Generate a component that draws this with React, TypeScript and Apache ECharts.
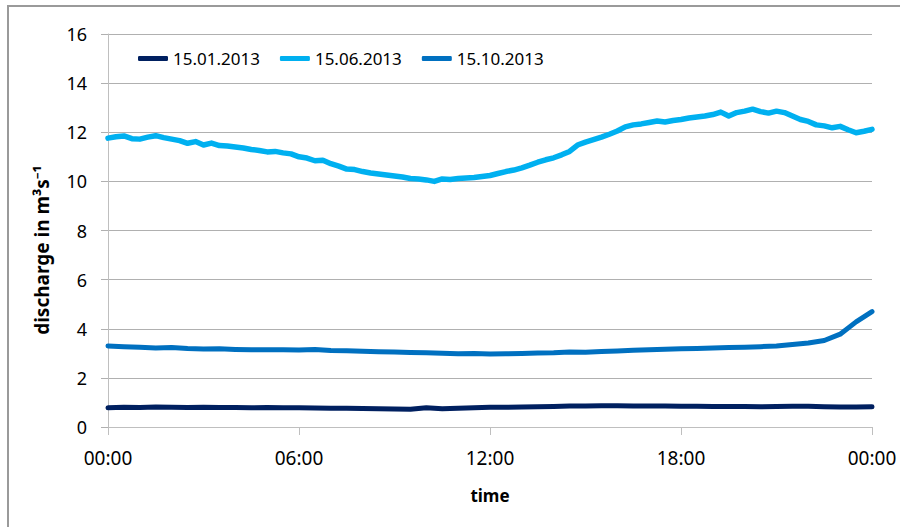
import React, { useEffect, useRef } from "react";
import * as echarts from "echarts";

// Sampling steps (hours) of the three series
const JUNE_STEP = 0.25;
const OTHER_STEP = 0.5;

const seriesNames = ["15.01.2013", "15.06.2013", "15.10.2013"];
const seriesColors = ["#002060", "#00B0F0", "#0070C0"];

const xTickLabels = ["00:00", "06:00", "12:00", "18:00", "00:00"];

// 15.01.2013, every 30 min
const janValues = [
  0.78, 0.8, 0.79, 0.81, 0.8, 0.79, 0.8, 0.79, 0.79, 0.78,
  0.79, 0.78, 0.78, 0.77, 0.76, 0.76, 0.75, 0.74, 0.73, 0.72,
  0.78, 0.74, 0.76, 0.78, 0.8, 0.8, 0.81, 0.82, 0.83, 0.85,
  0.86, 0.87, 0.87, 0.86, 0.86, 0.85, 0.84, 0.84, 0.83, 0.83,
  0.83, 0.82, 0.83, 0.84, 0.84, 0.82, 0.81, 0.81, 0.82,
];

// 15.06.2013, every 15 min
const juneValues = [
  11.76, 11.82, 11.85, 11.74, 11.72, 11.8, 11.86, 11.78, 11.72, 11.66,
  11.55, 11.62, 11.48, 11.56, 11.46, 11.44, 11.4, 11.36, 11.3, 11.26,
  11.2, 11.22, 11.16, 11.12, 11.0, 10.95, 10.84, 10.86, 10.72, 10.62,
  10.5, 10.48, 10.4, 10.34, 10.3, 10.26, 10.22, 10.18, 10.12, 10.1,
  10.06, 10.0, 10.1, 10.08, 10.12, 10.14, 10.16, 10.2, 10.24, 10.32,
  10.4, 10.46, 10.55, 10.66, 10.78, 10.88, 10.96, 11.08, 11.22, 11.48,
  11.6, 11.7, 11.8, 11.92, 12.05, 12.22, 12.3, 12.34, 12.4, 12.46,
  12.42, 12.48, 12.52, 12.58, 12.62, 12.66, 12.72, 12.82, 12.66, 12.8,
  12.86, 12.94, 12.84, 12.78, 12.86, 12.8, 12.66, 12.52, 12.44, 12.3,
  12.26, 12.18, 12.24, 12.1, 11.98, 12.04, 12.12,
];

// 15.10.2013, every 30 min
const octValues = [
  3.3, 3.27, 3.25, 3.22, 3.24, 3.2, 3.18, 3.19, 3.16, 3.14,
  3.15, 3.14, 3.13, 3.16, 3.11, 3.1, 3.08, 3.06, 3.05, 3.03,
  3.02, 3.0, 2.98, 2.99, 2.97, 2.98, 2.99, 3.01, 3.02, 3.05,
  3.04, 3.07, 3.09, 3.12, 3.14, 3.17, 3.19, 3.2, 3.22, 3.24,
  3.25, 3.27, 3.3, 3.36, 3.42, 3.52, 3.78, 4.28, 4.7,
];

const FONT = "'Noto Sans', sans-serif";

function toPairs(values: number[], step: number) {
  return values.map((v, i) => [i * step, v]);
}

export default function App() {
  const ref = useRef<HTMLDivElement>(null);

  useEffect(() => {
    if (!ref.current) return;
    const chart = echarts.init(ref.current, undefined, { renderer: "svg" });
    const valueSets = [
      toPairs(janValues, OTHER_STEP),
      toPairs(juneValues, JUNE_STEP),
      toPairs(octValues, OTHER_STEP),
    ];
    chart.setOption({
      animation: false,
      backgroundColor: "#ffffff",
      textStyle: { fontFamily: FONT },
      grid: { left: 108, right: 28, top: 34, bottom: 100, containLabel: false },
      legend: {
        left: 133,
        top: 45,
        itemWidth: 30,
        itemHeight: 5,
        itemGap: 20,
        icon: "roundRect",
        data: seriesNames,
        textStyle: { fontSize: 17, color: "#000", fontFamily: FONT },
      },
      xAxis: {
        type: "value",
        min: 0,
        max: 24,
        interval: 6,
        axisLine: { show: true, lineStyle: { color: "#BFBFBF", width: 1 } },
        axisTick: { show: true, length: 8, lineStyle: { color: "#BFBFBF" } },
        splitLine: { show: false },
        axisLabel: {
          fontSize: 19,
          color: "#000",
          margin: 21,
          fontFamily: FONT,
          formatter: (v: number) => xTickLabels[Math.round(v / 6)] ?? "",
        },
        name: "time",
        nameLocation: "middle",
        nameGap: 60,
        nameTextStyle: { fontSize: 17, fontWeight: "bold", color: "#000", fontFamily: FONT },
      },
      yAxis: {
        type: "value",
        min: 0,
        max: 16,
        interval: 2,
        axisLine: { show: true, lineStyle: { color: "#BFBFBF", width: 1 } },
        axisTick: { show: true, length: 7, lineStyle: { color: "#B0B0B0" } },
        splitLine: { show: true, lineStyle: { color: "#B0B0B0", width: 1 } },
        axisLabel: { fontSize: 18, color: "#000", margin: 21, fontFamily: FONT },
      },
      graphic: [
        {
          type: "rect",
          shape: { x: 8, y: 6, width: 1000, height: 1000 },
          style: { fill: "none", stroke: "#9A9A9A", lineWidth: 2 },
          silent: true,
        },
        {
          type: "text",
          x: 42,
          y: 250,
          rotation: Math.PI / 2,
          style: {
            text: "discharge in m\u00B3s\u207B\u00B9",
            align: "center",
            verticalAlign: "middle",
            fontSize: 19,
            fontWeight: "bold",
            fill: "#000",
            fontFamily: FONT,
          },
        },
      ],
      series: seriesNames.map((name, i) => ({
        name,
        type: "line",
        data: valueSets[i],
        symbol: "none",
        showSymbol: false,
        smooth: false,
        lineStyle: { color: seriesColors[i], width: i === 1 ? 5.5 : 5, cap: "round", join: "round" },
        itemStyle: { color: seriesColors[i] },
        z: i === 0 ? 3 : 2,
      })),
    });
    return () => chart.dispose();
  }, []);

  return (
    <div
      ref={ref}
      style={{ position: "fixed", left: 0, top: 0, width: 900, height: 527 }}
    />
  );
}
